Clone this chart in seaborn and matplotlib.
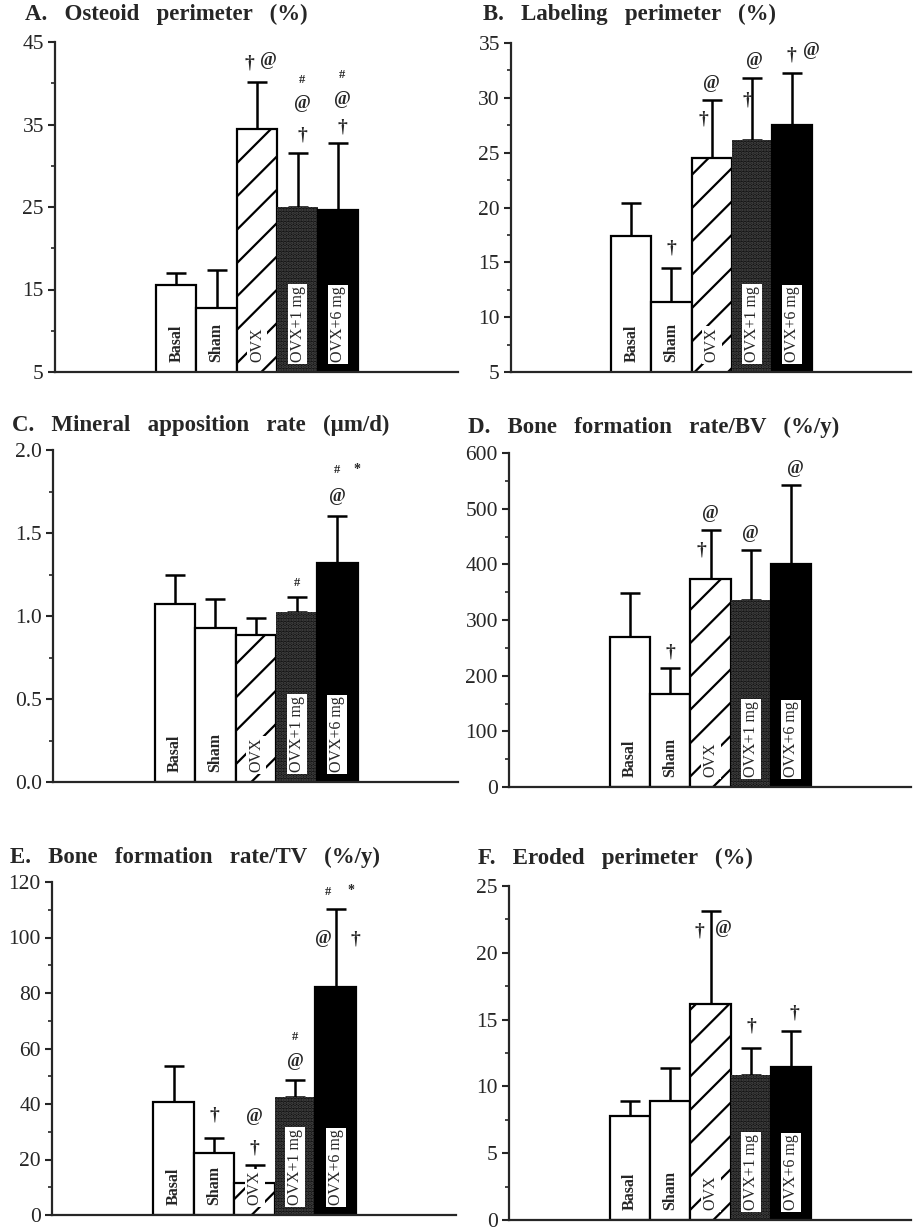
import matplotlib
matplotlib.use("Agg")
import matplotlib.pyplot as plt
from matplotlib.ticker import MultipleLocator
import seaborn as sns
import pandas as pd

groups = ["Basal", "Sham", "OVX", "OVX+1 mg", "OVX+6 mg"]

osteoid_mean = [15.5, 12.7, 34.5, 25.0, 24.6]
osteoid_err = [1.5, 4.7, 5.6, 6.5, 8.2]
labeling_mean = [17.4, 11.4, 24.5, 26.2, 27.55]
labeling_err = [3.0, 3.1, 5.3, 5.6, 4.75]
mar_mean = [1.07, 0.93, 0.885, 1.025, 1.317]
mar_err = [0.18, 0.17, 0.10, 0.09, 0.287]
bfr_bv_mean = [270, 167, 374, 336, 401]
bfr_bv_err = [78, 46, 88, 89, 142]
bfr_tv_mean = [40.8, 22.4, 11.4, 42.6, 82.2]
bfr_tv_err = [12.8, 5.2, 6.6, 6.0, 28.2]
eroded_mean = [7.8, 8.9, 16.2, 10.85, 11.45]
eroded_err = [1.07, 2.45, 6.9, 2.0, 2.7]

titles = ["A.   Osteoid   perimeter   (%)", "B.   Labeling   perimeter   (%)",
          "C.   Mineral   apposition   rate   (\u00b5m/d)", "D.   Bone   formation   rate/BV   (%/y)",
          "E.   Bone   formation   rate/TV   (%/y)", "F.   Eroded   perimeter   (%)"]

# significance marks: (bar index, symbol, y value, x shift from bar centre)
marks_a = [(2, "\u2020", 42.4, -0.2), (2, "@", 42.7, 0.28), (3, "#", 40.4, 0.12), (3, "@", 37.6, 0.12),
           (3, "\u2020", 33.7, 0.12), (4, "#", 41.0, 0.1), (4, "@", 38.0, 0.1), (4, "\u2020", 34.7, 0.1)]
marks_b = [(1, "\u2020", 16.3, 0), (2, "\u2020", 28.1, -0.21), (2, "@", 31.3, 0), (3, "\u2020", 29.8, -0.11),
           (3, "@", 33.4, 0.08), (4, "\u2020", 33.9, 0), (4, "@", 34.3, 0.5)]
marks_c = [(3, "#", 1.197, 0), (4, "#", 1.88, 0), (4, "*", 1.88, 0.48), (4, "@", 1.72, 0)]
marks_d = [(1, "\u2020", 243, 0), (2, "\u2020", 426, -0.23), (2, "@", 492, 0), (3, "@", 456, 0), (4, "@", 573, 0.1)]
marks_e = [(1, "\u2020", 36, 0), (2, "\u2020", 24, 0), (2, "@", 35.4, 0), (3, "#", 64.2, 0), (3, "@", 55.2, 0),
           (4, "#", 116.3, -0.2), (4, "*", 117, 0.37), (4, "@", 99.6, -0.29), (4, "\u2020", 99.6, 0.48)]
marks_f = [(2, "\u2020", 21.6, -0.27), (2, "@", 21.8, 0.33), (3, "\u2020", 14.5, 0), (4, "\u2020", 15.5, 0.08)]

sns.set_style("ticks")
plt.rcParams["font.family"] = ["Liberation Serif", "DejaVu Serif"]
plt.rcParams["hatch.linewidth"] = 1.6

fig = plt.figure(figsize=(9.16, 12.3), dpi=100)

panels = [
    # (means, errs, ylim, major, minor, marks, axes rect px [left, right, top, bottom], title pos px, fmt)
    (osteoid_mean, osteoid_err, (5, 45), 10, 5, marks_a, (55, 458, 42, 372), (25, 14), "%d"),
    (labeling_mean, labeling_err, (5, 35), 5, 2.5, marks_b, (511, 911, 43, 372), (483, 14), "%d"),
    (mar_mean, mar_err, (0, 2.0), 0.5, 0.25, marks_c, (53, 458, 450, 782), (12, 425), "%.1f"),
    (bfr_bv_mean, bfr_bv_err, (0, 600), 100, 50, marks_d, (509, 911, 453, 787), (468, 427), "%d"),
    (bfr_tv_mean, bfr_tv_err, (0, 120), 20, 10, marks_e, (52, 456, 882, 1215), (10, 857), "%d"),
    (eroded_mean, eroded_err, (0, 25), 5, 2.5, marks_f, (509, 911, 886, 1220), (478, 858), "%d"),
]

W, H = 916.0, 1230.0
for (means, errs, ylim, major, minor, marks, rect, tpos, fmt), title in zip(panels, titles):
    l, r, t, b = rect
    ax = fig.add_axes([l / W, 1 - b / H, (r - l) / W, (b - t) / H])
    df = pd.DataFrame({"group": groups, "value": means})
    sns.barplot(data=df, x="group", y="value", order=groups, ax=ax, color="white",
                edgecolor="black", linewidth=1.6, width=1.0, errorbar=None, saturation=1)
    patches = ax.patches
    for p in patches:
        p.set_facecolor("white")
        p.set_edgecolor("black")
        p.set_zorder(2)
    patches[2].set_hatch("/")
    patches[3].set_facecolor("#121212")
    patches[3].set_hatch(".....")
    patches[3].set_edgecolor("#4a4a4a")
    patches[3].set_linewidth(0.0)
    patches[4].set_facecolor("black")

    ax.errorbar(range(len(groups)), means, yerr=[[0] * len(errs), errs], fmt="none",
                ecolor="black", elinewidth=1.8, capsize=7.5, capthick=1.8, zorder=1)

    ax.set_xlim(-3.0, 6.97)
    ax.set_ylim(*ylim)
    ax.set_xticks([])
    ax.set_xlabel("")
    ax.set_ylabel("")
    ax.yaxis.set_major_locator(MultipleLocator(major, offset=ylim[0]))
    ax.yaxis.set_minor_locator(MultipleLocator(minor, offset=ylim[0]))
    ax.yaxis.set_major_formatter(plt.FormatStrFormatter(fmt))
    ax.tick_params(axis="y", which="major", direction="out", length=5, width=1.5, labelsize=15.5, pad=3)
    ax.tick_params(axis="y", which="minor", direction="out", length=3, width=1.2)
    for s in ("top", "right"):
        ax.spines[s].set_visible(False)
    for s in ("left", "bottom"):
        ax.spines[s].set_linewidth(1.6)

    # labels inside bars
    for i, g in enumerate(groups):
        box = None
        if i >= 2:
            box = dict(boxstyle="square,pad=0.12", facecolor="white", edgecolor="none")
        ax.annotate(g, xy=(i, ylim[0]), xytext=(0, 7), textcoords="offset points",
                    rotation=90, ha="center", va="bottom", fontsize=11.5,
                    fontweight="bold" if i < 2 else "normal", bbox=box, zorder=4)

    sizes = {"\u2020": 14, "@": 13, "#": 9, "*": 10}
    for i, sym, yv, dx in marks:
        ax.text(i + dx, yv, sym, ha="center", va="center", fontsize=sizes[sym],
                fontweight="bold", zorder=5)

    fig.text(tpos[0] / W, 1 - tpos[1] / H, title, ha="left", va="center",
             fontsize=16.5, fontweight="bold")

fig.savefig("out.png", dpi=100)
